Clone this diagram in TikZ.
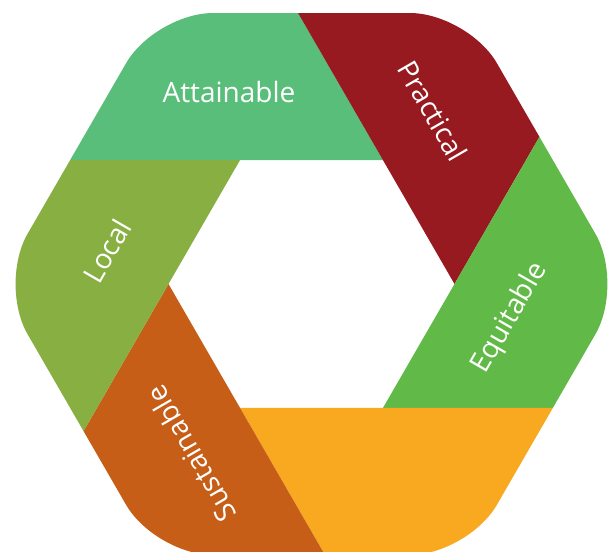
\documentclass[tikz,border=0pt]{standalone}
\usepackage{fontspec}
\setmainfont{Open Sans}
\usetikzlibrary{calc}
\definecolor{cAtt}{HTML}{58BE7A}
\definecolor{cPra}{HTML}{981A21}
\definecolor{cEqu}{HTML}{61BA47}
\definecolor{cOra}{HTML}{F8A91F}
\definecolor{cSus}{HTML}{C65E18}
\definecolor{cLoc}{HTML}{87AF42}
\begin{document}
\begin{tikzpicture}[x=1pt,y=1pt,
  lbl/.style={text=white,font=\fontsize{28}{34}\selectfont,inner sep=0pt}]
\useasboundingbox (-311.5,-268) rectangle (302.5,284);
\begin{scope}
\clip[rounded corners=58pt] (0,271) -- (120:312.9) -- (180:312.9) -- (240:312.9)
  -- (300:312.9) -- (0:312.9) -- (60:312.9) -- cycle;
\foreach \a/\c in {60/cAtt,0/cPra,300/cEqu,240/cOra,180/cSus,120/cLoc}{
  \fill[\c] ($(\a:143)+(\a+120:700)$) -- (\a:143) -- ++(\a+60:700) -- ++(\a+120:700) -- cycle;
}
\end{scope}
\node[lbl] (att) at (-82.5,192) {Attainable};
\node[lbl,rotate=-60] (pra) at (121.5,173) {Practical};
\node[lbl,rotate=60] (equ) at (198.5,-34) {Equitable};
\node[lbl,rotate=60] (loc) at (-204.5,33) {Local};
\node[lbl,rotate=120] (sus) at (-120.5,-170) {Sustainable};
\end{tikzpicture}
\end{document}
